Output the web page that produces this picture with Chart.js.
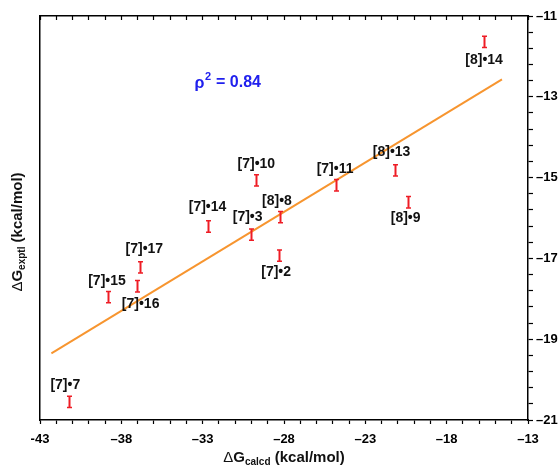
<!DOCTYPE html>
<html>
<head>
<meta charset="utf-8">
<script src="https://cdn.jsdelivr.net/npm/chart.js@4"></script>
<style>
  body { margin: 0; background: #fff; }
  canvas { display: block; }
</style>
</head>
<body>
<canvas id="myChart" width="560" height="466"></canvas>
<script>
// Data
var pointLabels = ['[8]\u202214', '[8]\u202213', '[7]\u202211', '[8]\u20229', '[8]\u20228', '[7]\u202210', '[7]\u202214',
                   '[7]\u20223', '[7]\u20222', '[7]\u202217', '[7]\u202216', '[7]\u202215', '[7]\u20227'];
var dgCalcd = [-15.7, -21.2, -24.8, -20.4, -28.25, -29.7, -32.7, -30.05, -28.3, -36.83, -37.06, -38.82, -41.2];
var dgExpt = [-11.64, -14.82, -15.19, -15.61, -15.98, -15.07, -16.21, -16.41, -16.93, -17.22, -17.69, -17.96, -20.55];
var dgErr = [0.14, 0.14, 0.14, 0.14, 0.14, 0.14, 0.14, 0.14, 0.14, 0.14, 0.14, 0.14, 0.14];

// fitted line (two ends)
var fitX = [-42.3, -14.6];
var fitY = [-19.35, -12.57];

var xTickLabels = ['-43', '\u201338', '\u201333', '\u201328', '\u201323', '\u201318', '\u201313'];
var yTickLabels = ['\u201321', '\u201319', '\u201317', '\u201315', '\u201313', '\u201311'];
var rhoText = '0.84';

// pixel offsets of the labels from their point (style only)
var labelOffsets = [[0, 18], [-3, -18], [-1, -16], [-2, 16], [-3, -16], [0, -16], [0, -19],
                    [-3, -17], [-3, 17], [4, -18], [4, 18], [-1, -16], [-4, -17]];

var FONT = '"Liberation Sans", Arial, sans-serif';

// vẽ error bar, nhãn điểm, chữ rho^2 và tên trục
var extras = {
    id: 'extras',
    afterDatasetsDraw: function (chart) {
        var ctx = chart.ctx;
        var xs = chart.scales.x, ys = chart.scales.y;
        ctx.save();

        // error bars (I-beam)
        ctx.strokeStyle = '#ee1c25';
        for (var i = 0; i < dgCalcd.length; i++) {
            var px = Math.round(xs.getPixelForValue(dgCalcd[i])) + 0.5;
            var top = ys.getPixelForValue(dgExpt[i] + dgErr[i]);
            var bot = ys.getPixelForValue(dgExpt[i] - dgErr[i]);
            ctx.lineWidth = 2;
            ctx.beginPath();
            ctx.moveTo(px, top);
            ctx.lineTo(px, bot);
            ctx.stroke();
            ctx.lineWidth = 1.5;
            ctx.beginPath();
            ctx.moveTo(px - 2.5, top);
            ctx.lineTo(px + 2.5, top);
            ctx.moveTo(px - 2.5, bot);
            ctx.lineTo(px + 2.5, bot);
            ctx.stroke();
        }

        // point labels
        ctx.fillStyle = '#111';
        ctx.font = 'bold 14px ' + FONT;
        ctx.textAlign = 'center';
        ctx.textBaseline = 'middle';
        for (var j = 0; j < pointLabels.length; j++) {
            var lx = xs.getPixelForValue(dgCalcd[j]) + labelOffsets[j][0];
            var ly = ys.getPixelForValue(dgExpt[j]) + labelOffsets[j][1];
            ctx.fillText(pointLabels[j], lx, ly);
        }

        // rho^2 = 0.84
        var rx = xs.getPixelForValue(-33.5);
        var ry = ys.getPixelForValue(-12.64);
        ctx.fillStyle = '#2020ee';
        ctx.textAlign = 'left';
        ctx.font = 'bold 16px ' + FONT;
        ctx.fillText('\u03c1', rx, ry + 1);
        var w = ctx.measureText('\u03c1').width;
        ctx.font = 'bold 11px ' + FONT;
        ctx.fillText('2', rx + w + 0.5, ry - 5);
        var w2 = ctx.measureText('2').width;
        ctx.font = 'bold 16px ' + FONT;
        ctx.fillText(' = ' + rhoText, rx + w + w2 + 1, ry);

        // axis titles with subscripts
        drawSubTitle(ctx, 'G', 'calcd', (chart.chartArea.left + chart.chartArea.right) / 2, 457, 0);
        drawSubTitle(ctx, 'G', 'exptl', 17, 232, -Math.PI / 2);

        ctx.restore();
    }
};

function drawSubTitle(ctx, main, sub, cx, cy, angle) {
    ctx.save();
    ctx.translate(cx, cy);
    ctx.rotate(angle);
    ctx.fillStyle = '#111';
    ctx.textBaseline = 'alphabetic';
    ctx.textAlign = 'left';
    var big = 'bold 15px ' + FONT, delta = '15px ' + FONT, small = 'bold 10px ' + FONT;
    ctx.font = delta; var wd = ctx.measureText('\u0394').width;
    ctx.font = big; var wg = ctx.measureText(main).width;
    ctx.font = small; var ws = ctx.measureText(sub).width;
    ctx.font = big; var wr = ctx.measureText(' (kcal/mol)').width;
    var x = -(wd + wg + ws + wr) / 2, y = 5;
    ctx.font = delta; ctx.fillText('\u0394', x, y); x += wd;
    ctx.font = big; ctx.fillText(main, x, y); x += wg;
    ctx.font = small; ctx.fillText(sub, x, y + 3); x += ws;
    ctx.font = big; ctx.fillText(' (kcal/mol)', x, y);
    ctx.restore();
}

var fitData = fitX.map(function (v, i) { return { x: v, y: fitY[i] }; });
var ptData = dgCalcd.map(function (v, i) { return { x: v, y: dgExpt[i] }; });

var tickFont = { family: FONT, size: 13, weight: 'bold' };
var frame = { display: true, color: '#000', width: 1.5 };

var ctx = document.getElementById('myChart').getContext('2d');
var myChart = new Chart(ctx, {
    type: 'scatter',
    data: {
        datasets: [{
            type: 'line',
            data: fitData,
            borderColor: '#f7952f',
            borderWidth: 2,
            pointRadius: 0,
            fill: false
        }, {
            data: ptData,
            pointRadius: 0
        }]
    },
    options: {
        responsive: false,
        animation: false,
        plugins: { legend: { display: false }, tooltip: { enabled: false } },
        layout: { padding: 0 },
        scales: {
            x: {
                type: 'linear', position: 'bottom', min: -43, max: -13,
                border: frame,
                grid: { drawOnChartArea: false, tickLength: 4, color: '#000', tickWidth: 1.2 },
                ticks: {
                    stepSize: 1, autoSkip: false, maxRotation: 0, padding: 8,
                    color: '#000', font: tickFont,
                    callback: function (v) {
                        var k = Math.round(v + 43);
                        return k % 5 === 0 ? xTickLabels[k / 5] : '';
                    }
                },
                afterFit: function (s) { s.height = 46; }
            },
            x2: {
                type: 'linear', position: 'top', min: -43, max: -13,
                border: frame,
                grid: { drawOnChartArea: false, tickLength: -4, color: '#000', tickWidth: 1.2 },
                ticks: { display: false, stepSize: 1, autoSkip: false },
                afterFit: function (s) { s.height = 16; }
            },
            y: {
                type: 'linear', position: 'right', min: -21, max: -11,
                border: frame,
                grid: { drawOnChartArea: false, tickLength: 5, color: '#000', tickWidth: 1.2 },
                ticks: {
                    stepSize: 0.4, autoSkip: false, padding: 3,
                    color: '#000', font: tickFont,
                    callback: function (v) {
                        var k = Math.round((v + 21) / 0.4);
                        return k % 5 === 0 ? yTickLabels[k / 5] : '';
                    }
                },
                afterFit: function (s) { s.width = 32; }
            },
            yl: {
                type: 'linear', position: 'left', min: -21, max: -11,
                border: frame,
                grid: { display: false },
                ticks: { display: false },
                afterFit: function (s) { s.width = 40; }
            }
        }
    },
    plugins: [extras]
});
</script>
</body>
</html>
